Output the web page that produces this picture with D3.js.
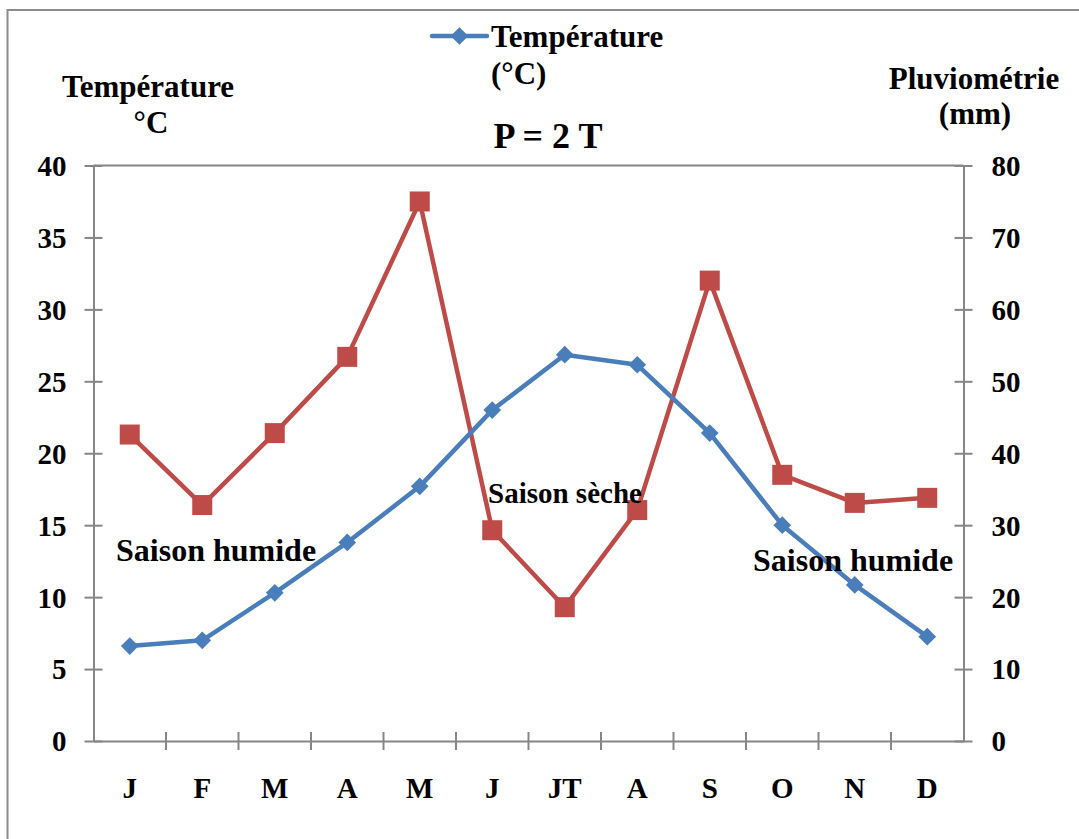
<!DOCTYPE html>
<html>
<head>
<meta charset="utf-8">
<script src="https://cdn.jsdelivr.net/npm/d3@7/dist/d3.min.js"></script>
<style>
  body { margin: 0; background: #fff; }
  svg text { font-family: "Liberation Serif", "Times New Roman", serif; font-weight: bold; fill: #000; }
</style>
</head>
<body>
<div id="container"></div>
<script>
var months = ['J', 'F', 'M', 'A', 'M ', 'J ', 'JT', 'A ', 'S', 'O', 'N', 'D'],
    monthLabels = ['J', 'F', 'M', 'A', 'M', 'J', 'JT', 'A', 'S', 'O', 'N', 'D'],
    temperature = [6.6, 7.0, 10.3, 13.8, 17.7, 23.0, 26.85, 26.15, 21.4, 15.0, 10.85, 7.25],
    pluviometrie = [42.6, 32.8, 42.8, 53.4, 75.0, 29.3, 18.6, 32.1, 64.0, 37.0, 33.1, 33.8],
    tempTicks = [0, 5, 10, 15, 20, 25, 30, 35, 40],
    pluvioTicks = [0, 10, 20, 30, 40, 50, 60, 70, 80];

var width = 1079,
    height = 839,
    plotLeft = 93.5,
    plotRight = 963.5,
    plotTop = 165.5,
    plotBottom = 741,
    axisColor = '#868686',
    blue = '#4A7EBB',
    red = '#BE4B48';

var svg = d3.select( '#container' ).append( 'svg' )
  .attr( 'width', width )
  .attr( 'height', height );

// outer frame, cut by the page edge on the right and bottom
svg.append( 'rect' )
  .attr( 'x', 7.5 ).attr( 'y', 10 )
  .attr( 'width', 1100 ).attr( 'height', 900 )
  .attr( 'fill', 'none' )
  .attr( 'stroke', '#8c8c8c' )
  .attr( 'stroke-width', 2 );

var x = d3.scaleBand().domain( months ).range( [plotLeft, plotRight] ),
    yT = d3.scaleLinear().domain( [0, 40] ).range( [plotBottom, plotTop] ),
    yP = d3.scaleLinear().domain( [0, 80] ).range( [plotBottom, plotTop] );

function styleAxis( g ) {
  g.select( '.domain' ).attr( 'stroke', axisColor ).attr( 'stroke-width', 2 );
  g.selectAll( '.tick line' ).attr( 'stroke', axisColor ).attr( 'stroke-width', 2 );
  g.selectAll( '.tick text' )
    .style( 'font-size', '29px' )
    .attr( 'fill', '#000' );
}

// top line of the plot area
svg.append( 'line' )
  .attr( 'x1', plotLeft ).attr( 'x2', plotRight )
  .attr( 'y1', yT( 40 ) ).attr( 'y2', yT( 40 ) )
  .attr( 'stroke', axisColor ).attr( 'stroke-width', 2 );

// left axis (temperature)
var leftAxis = svg.append( 'g' )
  .attr( 'transform', 'translate(' + plotLeft + ',0)' )
  .call( d3.axisLeft( yT ).tickValues( tempTicks ).tickSizeInner( 9 ).tickSizeOuter( 0 ) )
  .call( styleAxis );
leftAxis.selectAll( '.tick line' ).attr( 'x1', -9 ).attr( 'x2', 9 );
leftAxis.selectAll( '.tick text' ).attr( 'dy', '0.34em' ).attr( 'x', -27 );

// right axis (pluviometrie)
var rightAxis = svg.append( 'g' )
  .attr( 'transform', 'translate(' + plotRight + ',0)' )
  .call( d3.axisRight( yP ).tickValues( pluvioTicks ).tickSizeInner( 9 ).tickSizeOuter( 0 ) )
  .call( styleAxis );
rightAxis.selectAll( '.tick line' ).attr( 'x1', -9 ).attr( 'x2', 9 );
rightAxis.selectAll( '.tick text' ).attr( 'dy', '0.34em' ).attr( 'x', 28 );

// bottom axis, ticks between categories
var bottomAxis = svg.append( 'g' )
  .attr( 'transform', 'translate(0,' + plotBottom + ')' )
  .call( d3.axisBottom( x ).tickSize( 0 ).tickFormat( function( d, i ) { return monthLabels[i]; } ) )
  .call( styleAxis );
bottomAxis.selectAll( '.tick text' ).attr( 'y', 48 ).attr( 'dy', '0.32em' );

var boundaries = d3.range( months.length + 1 ).map( function( i ) { return plotLeft + i * x.bandwidth(); } );
svg.append( 'g' ).selectAll( 'line' )
  .data( boundaries.slice( 1, -1 ) ).enter()
  .append( 'line' )
    .attr( 'x1', function( d ) { return d; } ).attr( 'x2', function( d ) { return d; } )
    .attr( 'y1', plotBottom - 9 ).attr( 'y2', plotBottom + 9 )
    .attr( 'stroke', axisColor ).attr( 'stroke-width', 2 );

function cx( i ) { return x( months[i] ) + x.bandwidth() / 2; }

// pluviometrie series (red, right axis)
svg.append( 'path' )
  .datum( pluviometrie )
  .attr( 'fill', 'none' )
  .attr( 'stroke', red )
  .attr( 'stroke-width', 4.5 )
  .attr( 'stroke-linejoin', 'round' )
  .attr( 'd', d3.line().x( function( d, i ) { return cx( i ); } ).y( function( d ) { return yP( d ); } ) );

svg.append( 'g' ).selectAll( 'rect' )
  .data( pluviometrie ).enter()
  .append( 'rect' )
    .attr( 'x', function( d, i ) { return cx( i ) - 10; } )
    .attr( 'y', function( d ) { return yP( d ) - 10; } )
    .attr( 'width', 20 ).attr( 'height', 20 )
    .attr( 'fill', red );

// temperature series (blue, left axis)
var diamond = d3.symbol().type( d3.symbolDiamond2 ).size( 200 );

svg.append( 'path' )
  .datum( temperature )
  .attr( 'fill', 'none' )
  .attr( 'stroke', blue )
  .attr( 'stroke-width', 4.5 )
  .attr( 'stroke-linejoin', 'round' )
  .attr( 'd', d3.line().x( function( d, i ) { return cx( i ); } ).y( function( d ) { return yT( d ); } ) );

svg.append( 'g' ).selectAll( 'path' )
  .data( temperature ).enter()
  .append( 'path' )
    .attr( 'd', diamond )
    .attr( 'transform', function( d, i ) { return 'translate(' + cx( i ) + ',' + yT( d ) + ')'; } )
    .attr( 'fill', blue );

// season labels
var seasons = [
  { text: 'Saison humide', x: 116, y: 561, size: 32 },
  { text: 'Saison sèche', x: 488, y: 503, size: 29 },
  { text: 'Saison humide', x: 753, y: 571, size: 32 }
];
svg.append( 'g' ).selectAll( 'text' )
  .data( seasons ).enter()
  .append( 'text' )
    .attr( 'x', function( d ) { return d.x; } )
    .attr( 'y', function( d ) { return d.y; } )
    .style( 'font-size', function( d ) { return d.size + 'px'; } )
    .text( function( d ) { return d.text; } );

// axis titles
svg.append( 'text' ).attr( 'x', 148 ).attr( 'y', 97 ).attr( 'text-anchor', 'middle' )
  .style( 'font-size', '31px' ).text( 'Température' );
svg.append( 'text' ).attr( 'x', 151 ).attr( 'y', 133 ).attr( 'text-anchor', 'middle' )
  .style( 'font-size', '31px' ).text( '°C' );
svg.append( 'text' ).attr( 'x', 974 ).attr( 'y', 89 ).attr( 'text-anchor', 'middle' )
  .style( 'font-size', '31px' ).text( 'Pluviométrie' );
svg.append( 'text' ).attr( 'x', 975 ).attr( 'y', 124 ).attr( 'text-anchor', 'middle' )
  .style( 'font-size', '31px' ).text( '(mm)' );

// title
svg.append( 'text' ).attr( 'x', 548 ).attr( 'y', 148 ).attr( 'text-anchor', 'middle' )
  .style( 'font-size', '36px' ).text( 'P = 2 T' );

// legend
var legend = svg.append( 'g' );
legend.append( 'line' )
  .attr( 'x1', 432 ).attr( 'x2', 487 ).attr( 'y1', 36 ).attr( 'y2', 36 )
  .attr( 'stroke', blue ).attr( 'stroke-width', 4.5 ).attr( 'stroke-linecap', 'round' );
legend.append( 'path' )
  .attr( 'd', diamond )
  .attr( 'transform', 'translate(459.5,36)' )
  .attr( 'fill', blue );
legend.append( 'text' ).attr( 'x', 491 ).attr( 'y', 47 )
  .style( 'font-size', '31px' ).text( 'Température' );
legend.append( 'text' ).attr( 'x', 491 ).attr( 'y', 84 )
  .style( 'font-size', '31px' ).text( '(°C)' );
</script>
</body>
</html>
